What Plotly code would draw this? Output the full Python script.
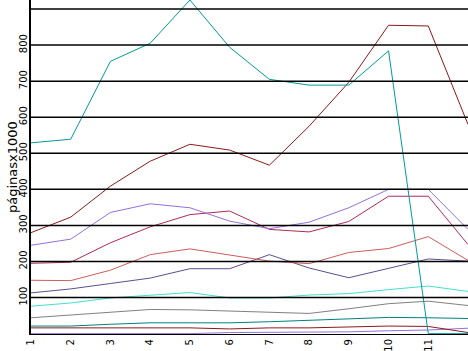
import plotly.graph_objects as go

x = list(range(1, 13))
tick_x = list(range(1, 12))
tick_y = [100, 200, 300, 400, 500, 600, 700, 800, 900]
tick_y_text = ["100", "200", "300", "400", "500", "600", "700", "800", ""]

s_teal_big = [529, 539, 755, 805, 925, 794, 705, 689, 689, 784, 0, 0]
s_darkred_top = [280, 323, 409, 478, 525, 509, 467, 575, 697, 855, 853, 580]
s_purple_top = [245, 262, 336, 360, 349, 312, 291, 309, 349, 400, 400, 289]
s_crimson = [195, 198, 252, 296, 330, 340, 289, 282, 311, 381, 381, 247]
s_indianred = [148, 147, 176, 219, 235, 217, 201, 194, 225, 236, 269, 203]
s_slate = [113, 124, 139, 154, 180, 180, 219, 182, 155, 180, 207, 201]
s_turq = [76, 85, 99, 106, 114, 99, 99, 107, 111, 122, 132, 117]
s_gray = [44, 52, 61, 67, 66, 62, 59, 56, 69, 83, 90, 78]
s_teal_dark = [21, 21, 26, 30, 30, 30, 33, 37, 39, 45, 44, 42]
s_darkred_bot = [16, 16, 16, 16, 16, 13, 16, 16, 19, 21, 20, 3]
s_purple_bot = [0, 0, 0, 0, 0, 3, 3, 3, 5, 8, 10, 15]

series = [
    (s_purple_bot, "#9370db"),
    (s_darkred_bot, "#8b1a1a"),
    (s_teal_dark, "#008080"),
    (s_gray, "#808080"),
    (s_turq, "#40e0d0"),
    (s_slate, "#5a4f8f"),
    (s_indianred, "#cd5c5c"),
    (s_crimson, "#b0285a"),
    (s_purple_top, "#9370db"),
    (s_darkred_top, "#8b1a1a"),
    (s_teal_big, "#009b9b"),
]

fig = go.Figure()
for ys, c in series:
    fig.add_trace(go.Scatter(x=x, y=ys, mode="lines",
                             line=dict(color=c, width=1),
                             hoverinfo="skip", showlegend=False))

for v in tick_y:
    fig.add_shape(type="line", xref="paper", yref="y", x0=0, x1=1, y0=v, y1=v,
                  line=dict(color="black", width=1.5), layer="above")

fig.update_layout(
    width=468, height=351,
    margin=dict(l=31, r=0, t=0, b=17),
    paper_bgcolor="white", plot_bgcolor="white",
    font=dict(family="DejaVu Sans", size=10, color="black"),
    showlegend=False,
)
fig.update_xaxes(range=[1, 12], tickvals=tick_x, ticktext=[str(t) for t in tick_x],
                 tickangle=-90, showgrid=False, zeroline=False,
                 showline=True, linecolor="black", linewidth=1, ticks="",
                 layer="below traces")
fig.update_yaxes(range=[-1, 925], tickvals=tick_y, ticktext=tick_y_text,
                 tickangle=-90, showgrid=False, zeroline=False,
                 showline=True, linecolor="black", linewidth=1.5, ticks="",
                 ticklabelstandoff=-2,
                 layer="below traces")
fig.add_annotation(text="páginasx1000", xref="paper", yref="paper",
                   x=-19 / 437, y=0.5, xanchor="center", yanchor="middle",
                   textangle=-90, showarrow=False,
                   font=dict(family="DejaVu Sans", size=13, color="black"))

fig.write_html("out.html")
